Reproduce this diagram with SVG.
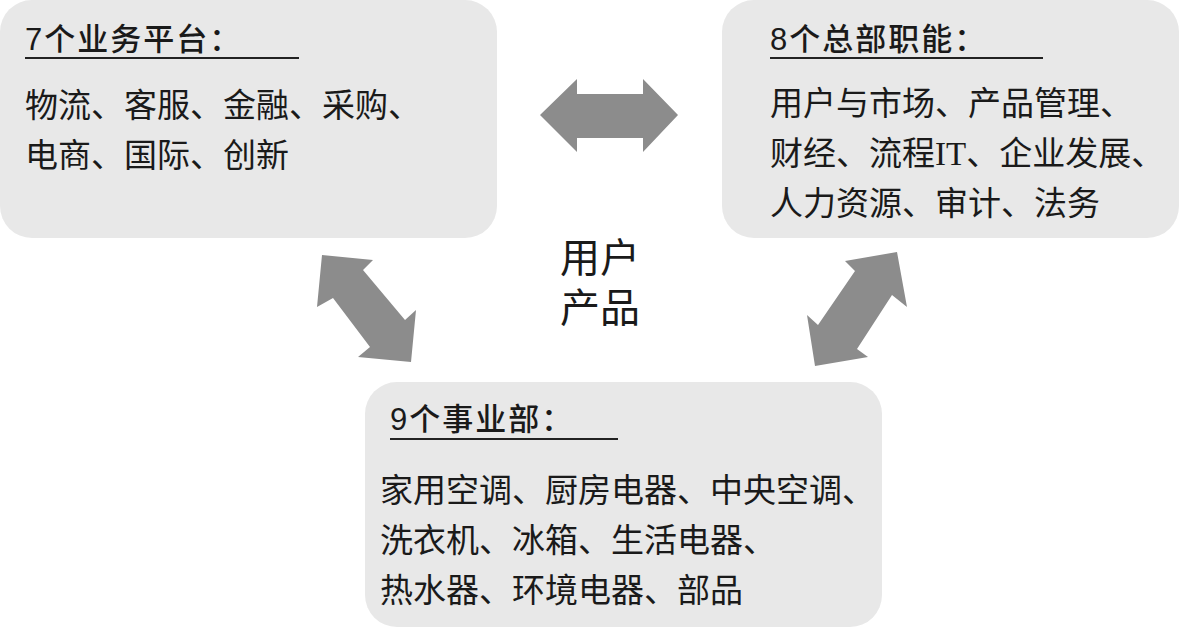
<svg xmlns="http://www.w3.org/2000/svg" width="1179" height="629" viewBox="0 0 1179 629">
<style>
.box{fill:#e8e8e8;}
.arrow{fill:#8c8c8c;}
.title{font-family:"Liberation Sans","Noto Sans CJK SC",sans-serif;font-size:31px;font-weight:500;fill:#1a1a1a;letter-spacing:2px;}
.body{font-family:"Liberation Serif","Noto Sans CJK SC",serif;font-size:33px;fill:#1a1a1a;}
.center{font-family:"Liberation Sans","Noto Sans CJK SC",sans-serif;font-size:40px;fill:#1a1a1a;}
.rule{stroke:#222;stroke-width:2;}
</style>
<rect width="1179" height="629" fill="#ffffff"/>
<g id="node-platforms">
<rect class="box" x="0" y="0" width="497" height="238" rx="32"/>
<text class="title" x="25" y="50">7个业务平台：</text>
<line class="rule" x1="25" y1="58" x2="299" y2="58"/>
<text class="body" x="25" y="117">物流、客服、金融、采购、</text>
<text class="body" x="25" y="167">电商、国际、创新</text>
</g>
<g id="node-hq">
<rect class="box" x="722" y="0" width="457" height="238" rx="32"/>
<text class="title" x="770" y="50">8个总部职能：</text>
<line class="rule" x1="770" y1="58" x2="1043" y2="58"/>
<text class="body" x="770" y="115">用户与市场、产品管理、</text>
<text class="body" x="770" y="165">财经、流程IT、企业发展、</text>
<text class="body" x="770" y="215">人力资源、审计、法务</text>
</g>
<g id="node-bu">
<rect class="box" x="365" y="382" width="517" height="245" rx="32"/>
<text class="title" x="390" y="430">9个事业部：</text>
<line class="rule" x1="390" y1="439" x2="618" y2="439"/>
<text class="body" x="380" y="502">家用空调、厨房电器、中央空调、</text>
<text class="body" x="380" y="552">洗衣机、冰箱、生活电器、</text>
<text class="body" x="380" y="602">热水器、环境电器、部品</text>
</g>
<g id="node-center">
<text class="center" x="560" y="272">用户</text>
<text class="center" x="560" y="322">产品</text>
</g>
<g id="connectors">
<polygon class="arrow" points="540,115 577,79 577,94 643,94 643,79 678,115 643,152 643,138 577,138 577,152"/>
<polygon class="arrow" points="322,255 373,260 363,270 405,320 416,310 411,362 358,357 370,347 333,298 317,307"/>
<polygon class="arrow" points="897,252 845,261 855,271 818,325 807,315 815,366 868,357 857,349 892,295 907,307"/>
</g>
</svg>
